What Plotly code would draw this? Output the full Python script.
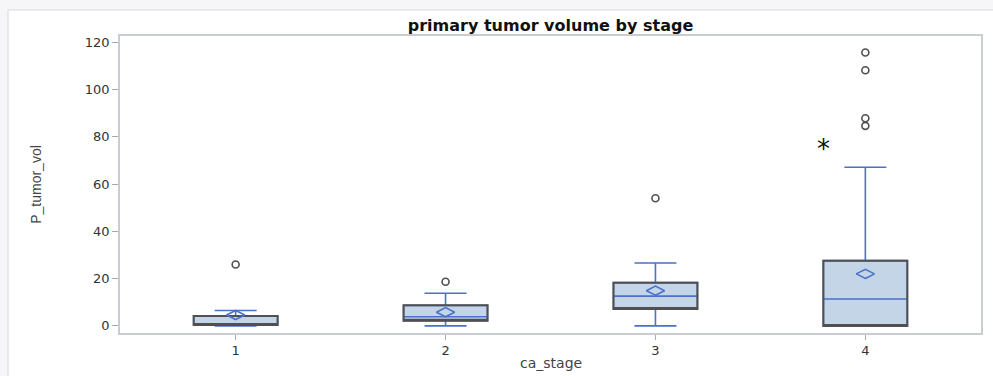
import plotly.graph_objects as go

# Summary statistics of primary tumor volume per cancer stage
stages = [1, 2, 3, 4]
q1 = [0.4, 2.2, 7.2, 0.0]
median = [0.5, 3.9, 12.6, 11.4]
q3 = [4.2, 8.7, 18.3, 27.6]
lower_whisker = [0.0, 0.0, 0.0, 0.0]
upper_whisker = [6.5, 13.8, 26.6, 67.1]
means = [4.6, 5.8, 14.9, 22.0]

# Outlying observations
outlier_stage = [1, 2, 3, 4, 4, 4, 4]
outlier_vol = [26.0, 18.7, 54.0, 115.6, 108.1, 87.8, 84.6]

# Marked annotation
star_x = 3.8
star_y = 77.0

FILL = "#c5d5e8"
BLUE = "#4a72c8"
EDGE = "#505050"
FRAME = "#c9cdd2"
BOX_W = 0.4

fig = go.Figure()

# Filled box with blue whiskers, caps and median line
fig.add_trace(go.Box(
    x=stages, q1=q1, median=median, q3=q3,
    lowerfence=lower_whisker, upperfence=upper_whisker,
    width=BOX_W, whiskerwidth=0.5,
    fillcolor=FILL, line=dict(color=BLUE, width=1.6),
    boxpoints=False, hoverinfo="skip", showlegend=False,
))

# Dark gray box outline only (no whiskers, median on the lower edge)
fig.add_trace(go.Box(
    x=stages, q1=q1, median=q1, q3=q3,
    lowerfence=q1, upperfence=q3,
    width=BOX_W, whiskerwidth=0,
    fillcolor="rgba(0,0,0,0)", line=dict(color=EDGE, width=2),
    boxpoints=False, hoverinfo="skip", showlegend=False,
))

# Means
fig.add_trace(go.Scatter(
    x=stages, y=means, mode="markers",
    marker=dict(symbol="diamond-wide-open", size=13, color=BLUE, line=dict(width=1.6, color=BLUE)),
    showlegend=False,
))

# Outliers
fig.add_trace(go.Scatter(
    x=outlier_stage, y=outlier_vol, mode="markers",
    marker=dict(symbol="circle-open", size=7, color=EDGE, line=dict(width=1.6, color=EDGE)),
    showlegend=False,
))

fig.add_annotation(
    x=star_x, y=star_y, text="*", showarrow=False,
    font=dict(family="DejaVu Sans", size=26, color="#111"),
    yshift=-5,
)

W, H = 993, 376
ML, MR, MT, MB = 120, 12, 36, 43
pw, ph = W - ML - MR, H - MT - MB

def px_x(px):
    return (px - ML) / pw

def px_y(py):
    return 1 - (py - MT) / ph

# x-axis title placed just under the tick labels
fig.add_annotation(
    xref="paper", yref="paper", x=0.5, y=px_y(363),
    xanchor="center", yanchor="middle", showarrow=False,
    text="ca_stage", font=dict(family="DejaVu Sans", size=14, color="#444"),
)

# Page frame
fig.add_shape(type="rect", xref="paper", yref="paper",
              x0=px_x(8), x1=px_x(W + 5), y0=px_y(H + 5), y1=px_y(10),
              fillcolor="white", line=dict(color="#e2e4e8", width=1.5), layer="below")

fig.update_layout(
    width=W, height=H,
    margin=dict(l=ML, r=MR, t=MT, b=MB, autoexpand=False),
    paper_bgcolor="#f6f6f8",
    plot_bgcolor="rgba(0,0,0,0)",
    boxmode="overlay",
    title=dict(text="<b>primary tumor volume by stage</b>", x=550.5 / W,
               xanchor="center", y=1 - 25 / H, yanchor="middle",
               font=dict(family="DejaVu Sans", size=16, color="#111")),
    font=dict(family="DejaVu Sans", color="#333"),
)

fig.update_xaxes(
    range=[0.449, 4.551], tickvals=stages, ticktext=[str(s) for s in stages],
    ticks="outside", ticklen=5, tickcolor="#aaa",
    tickfont=dict(size=13, color="#333"),
    showgrid=False, zeroline=False, automargin=False,
    showline=True, linecolor=FRAME, linewidth=1.5, mirror=True,
)
fig.update_yaxes(
    range=[-3.0, 122.6], tickvals=[0, 20, 40, 60, 80, 100, 120],
    ticks="outside", ticklen=6, tickcolor="#aaa",
    tickfont=dict(size=13, color="#333"),
    showgrid=False, zeroline=False, automargin=False,
    showline=True, linecolor=FRAME, linewidth=1.5, mirror=True,
    title=dict(text="P_tumor_vol", font=dict(family="Liberation Sans Narrow, Liberation Sans", size=14, color="#444"), standoff=40),
)

fig.write_html("out.html")
